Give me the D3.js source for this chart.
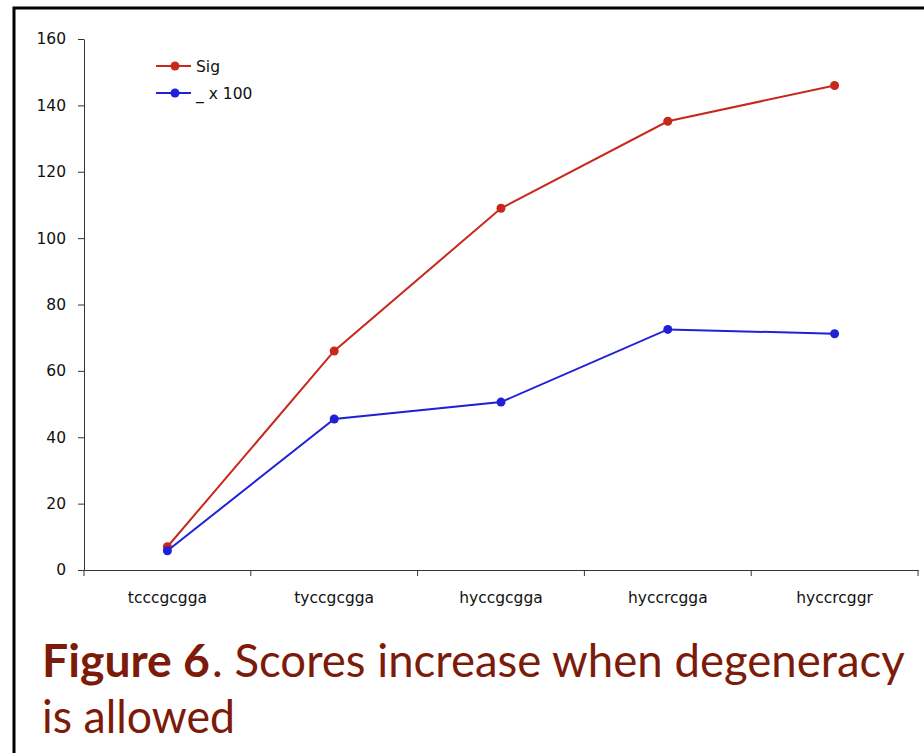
<!DOCTYPE html>
<html><head><meta charset="utf-8">
<script src="https://cdn.jsdelivr.net/npm/d3@7"></script>
<style>body{margin:0;background:#fff;}svg{display:block;}</style>
</head><body>
<script>
const categories = ["tcccgcgga","tyccgcgga","hyccgcgga","hyccrcgga","hyccrcggr"];
const sigValues = [7, 66, 109, 135.2, 146];
const x100Values = [5.8, 45.5, 50.6, 72.5, 71.2];
const yTicks = [0,20,40,60,80,100,120,140,160];
const seriesNames = ["Sig", "_ x 100"];
const colors = ["#c8281c", "#2020d8"];

const W = 924, H = 753;
const svg = d3.select("body").append("svg").attr("width", W).attr("height", H);

// frame
svg.append("path").attr("d", `M14,${H} L14,8 L${W},8`).attr("fill","none").attr("stroke","#000").attr("stroke-width",3);

const x = d3.scaleBand().domain(categories).range([84, 918]);
const y = d3.scaleLinear().domain([0,160]).range([570, 39]);

const font = "'DejaVu Sans', sans-serif";
const fs = 15.5;
const yAxis = svg.append("g").attr("transform","translate(84,0)")
  .call(d3.axisLeft(y).tickValues(yTicks).tickSize(6).tickSizeOuter(0).tickPadding(12));
const xAxis = svg.append("g").attr("transform","translate(0,570)")
  .call(d3.axisBottom(x).tickSize(0).tickSizeOuter(0).tickPadding(22));
// category boundary ticks
const bounds = categories.map(c => x(c)).concat([x.range()[1]]);
xAxis.selectAll("line.b").data(bounds).enter().append("line").attr("class","b")
  .attr("x1", d=>d).attr("x2", d=>d).attr("y1",0).attr("y2",6).attr("stroke","#333");
[yAxis, xAxis].forEach(g => {
  g.selectAll("path.domain").attr("stroke","#333");
  g.selectAll("line").attr("stroke","#333");
  g.selectAll("text").attr("font-family", font).attr("font-size", fs).attr("fill","#111");
});

const series = [sigValues, x100Values];
const line = d3.line().x((d,i)=>x(categories[i]) + x.bandwidth()/2).y(d=>y(d));
series.forEach((vals, s) => {
  svg.append("path").datum(vals).attr("d", line).attr("fill","none")
    .attr("stroke", colors[s]).attr("stroke-width", 2);
  svg.selectAll(null).data(vals).enter().append("circle")
    .attr("cx",(d,i)=>x(categories[i]) + x.bandwidth()/2).attr("cy", d=>y(d))
    .attr("r",4.5).attr("fill",colors[s]);
});

// legend
seriesNames.forEach((n, s) => {
  const ly = 66 + s*27;
  svg.append("line").attr("x1",156).attr("x2",191).attr("y1",ly).attr("y2",ly)
    .attr("stroke",colors[s]).attr("stroke-width",2);
  svg.append("circle").attr("cx",175).attr("cy",ly).attr("r",4.5).attr("fill",colors[s]);
  svg.append("text").attr("x",196).attr("y",ly+6).text(n)
    .attr("font-family",font).attr("font-size",fs).attr("fill","#111");
});

// caption (fitted horizontally with a scale transform)
const capFont = "Lato, 'Open Sans', sans-serif";
const capColor = "#7d1b0b";
const capSize = 46;
function capText(str, x0, y0, width, bold) {
  const t = svg.append("text").attr("x",0).attr("y",0)
    .attr("font-family",capFont).attr("font-size",capSize)
    .attr("font-weight", bold ? "bold" : "normal").attr("fill",capColor).text(str);
  const len = t.node().getComputedTextLength();
  t.attr("transform", `translate(${x0},${y0}) scale(${width/len},1)`);
}
capText("Figure 6", 42, 677, 168, true);
capText(". Scores increase when degeneracy", 212, 677, 693, false);
capText("is allowed", 42, 733, 193, false);
</script>
</body></html>
